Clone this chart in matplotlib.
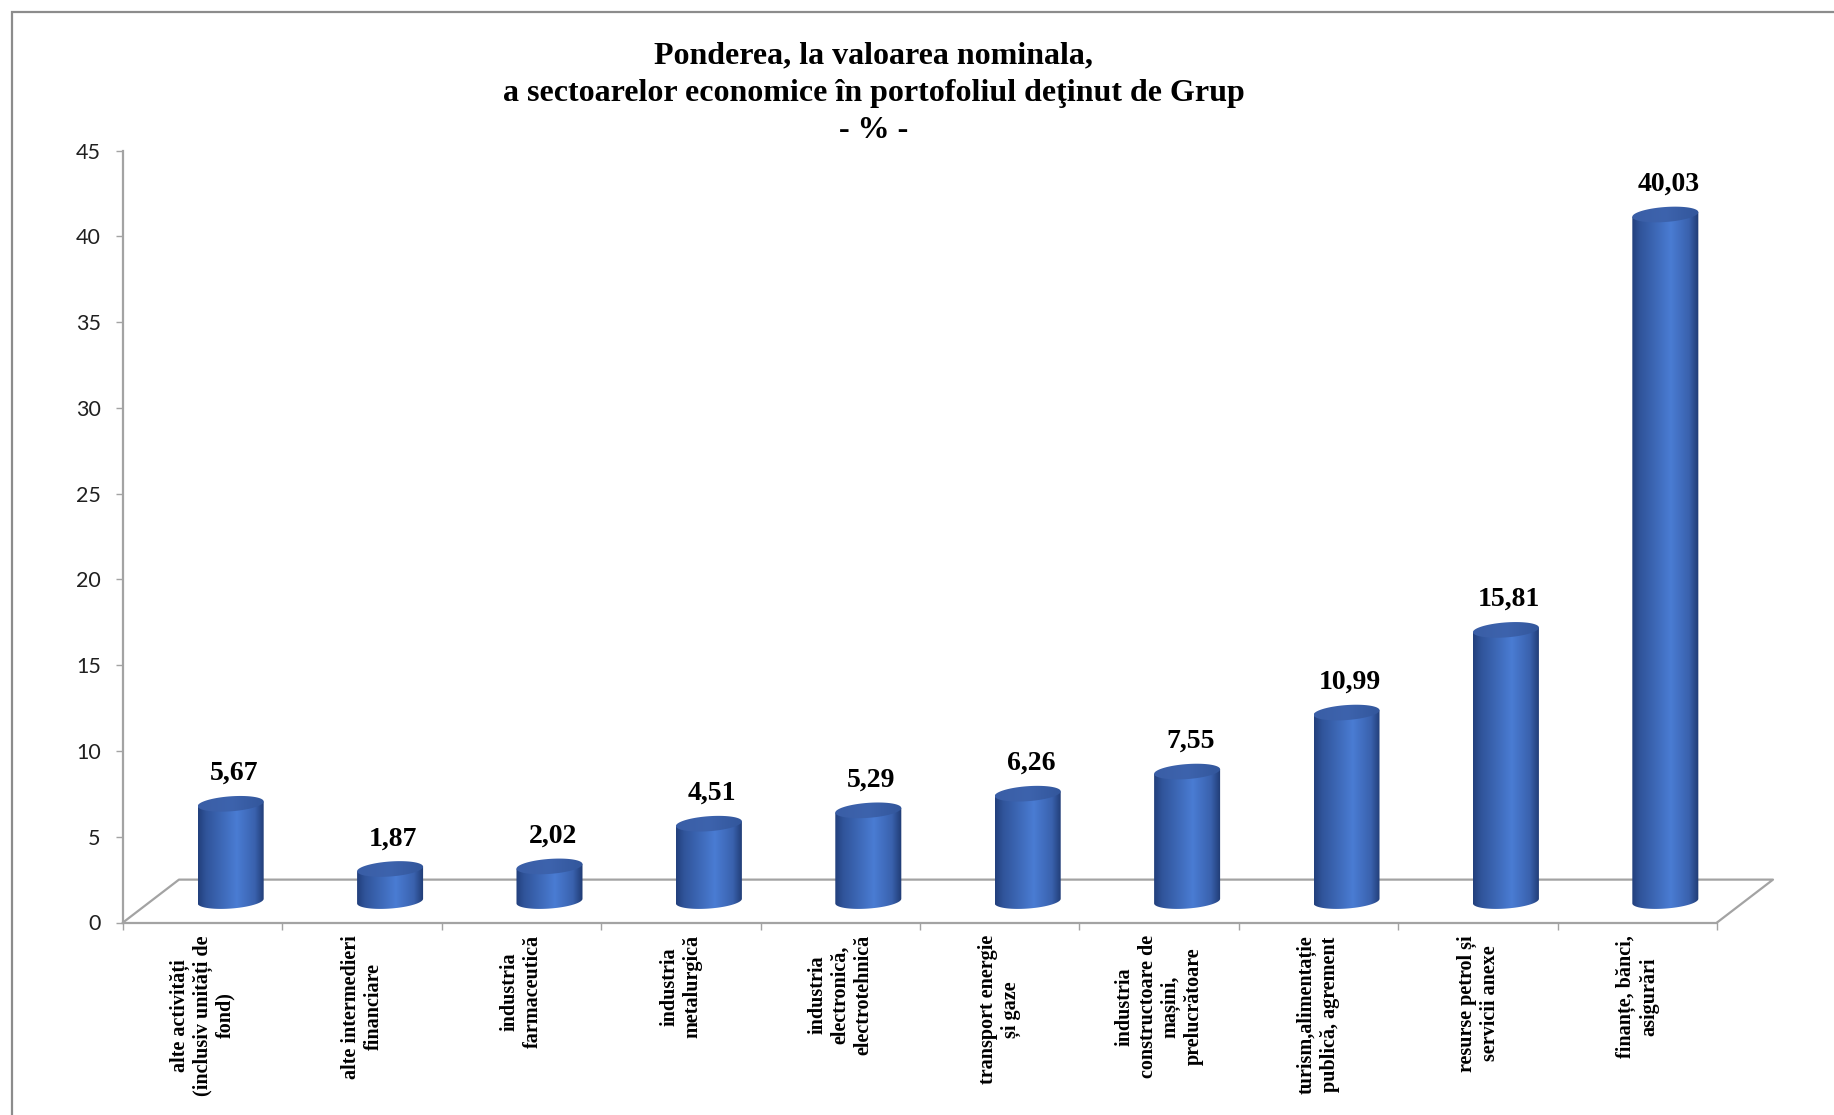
import numpy as np
import matplotlib
matplotlib.use("Agg")
import matplotlib.pyplot as plt
from matplotlib.path import Path
from matplotlib.patches import PathPatch, Rectangle
from matplotlib.colors import LinearSegmentedColormap
import matplotlib.ticker as mticker

categories = [
    "alte activități\n(inclusiv unități de\nfond)",
    "alte intermedieri\nfinanciare",
    "industria\nfarmaceutică",
    "industria\nmetalurgică",
    "industria\nelectronică,\nelectrotehnică",
    "transport energie\nși gaze",
    "industria\nconstructoare de\nmașini,\nprelucrătoare",
    "turism,alimentație\npublică, agrement",
    "resurse petrol și\nservicii anexe",
    "finanțe, bănci,\nasigurări",
]
values = [5.67, 1.87, 2.02, 4.51, 5.29, 6.26, 7.55, 10.99, 15.81, 40.03]
yticks = [0, 5, 10, 15, 20, 25, 30, 35, 40, 45]
title_lines = [
    "Ponderea, la valoarea nominala,",
    "a sectoarelor economice în portofoliul deţinut de Grup",
    "- % -",
]

W, H = 1834, 1115
fig = plt.figure(figsize=(W / 100, H / 100), dpi=100)

# chart area border (cut off at right / bottom like the source)
fig.patches.append(Rectangle((12 / W, -0.1), 1.2, (H - 12) / H + 0.1,
                             transform=fig.transFigure, fill=False,
                             edgecolor="#8c8c8c", linewidth=1.6))

# 3d-ish geometry (category units / value units)
depth_x = 0.351
depth_y = 2.5
n = len(values)

ax = fig.add_axes([123 / W, (H - 922.5) / H, 1650 / W, 771.8 / H])
ax.set_xlim(0, n + depth_x)
ax.set_ylim(0, 45)

grey = "#a3a3a3"
for s in ["top", "right"]:
    ax.spines[s].set_visible(False)
ax.spines["left"].set_color(grey)
ax.spines["left"].set_linewidth(1.6)
ax.spines["bottom"].set_color(grey)
ax.spines["bottom"].set_linewidth(1.6)
ax.spines["bottom"].set_bounds(0, n)

# floor outline
ax.plot([0, depth_x, n + depth_x, n], [0, depth_y, depth_y, 0],
        color=grey, lw=1.6, zorder=1, clip_on=False)

ax.yaxis.set_major_locator(mticker.FixedLocator(yticks))
ax.tick_params(axis="y", length=5, width=1, color=grey, pad=11,
               labelsize=15.5, labelcolor="#202020")
for lab in ax.get_yticklabels():
    lab.set_fontfamily("Lato")

ax.xaxis.set_major_locator(mticker.FixedLocator(np.arange(n + 1)))
ax.xaxis.set_major_formatter(mticker.NullFormatter())
ax.xaxis.set_minor_locator(mticker.FixedLocator(np.arange(n) + 0.5))
ax.xaxis.set_minor_formatter(mticker.FixedFormatter(categories))
ax.tick_params(axis="x", which="major", length=5, width=1, color=grey)
ax.tick_params(axis="x", which="minor", length=0, pad=9, labelsize=14.5)
for lab in ax.get_xticklabels(minor=True):
    lab.set_rotation(90)
    lab.set_fontfamily("Liberation Serif")
    lab.set_fontweight("bold")
    lab.set_multialignment("center")
    lab.set_verticalalignment("top")

body_cmap = LinearSegmentedColormap.from_list(
    "body", [(0, "#223f7c"), (0.12, "#30549a"), (0.58, "#4a7cd3"),
             (0.85, "#3a62ae"), (1, "#1f3a72")])
top_cmap = LinearSegmentedColormap.from_list(
    "top", [(0, "#3a5ea6"), (0.5, "#3d63ad"), (1, "#32569b")])

a = 33 / 159.4      # half width of cylinder (category units)
b = 7.5 / 17.15     # half height of ellipse (value units)
k = 0.07 * 159.4 / 17.15   # slight tilt
base = depth_y / 2
t = np.linspace(0, 2 * np.pi, 120)
grad = np.linspace(0, 1, 256)[None, :]

for i, v in enumerate(values):
    cx = i + 0.5 + depth_x / 2
    top = base + v
    # body: sides + lower half of bottom ellipse
    tb = np.linspace(np.pi, 2 * np.pi, 60)
    xs = np.concatenate([[cx - a], cx + a * np.cos(tb), [cx + a]])
    ys = np.concatenate([[top - k * a],
                         base + b * np.sin(tb) + k * a * np.cos(tb),
                         [top + k * a]])
    body = PathPatch(Path(np.column_stack([xs, ys]), closed=False),
                     facecolor="none", edgecolor="none")
    ax.add_patch(body)
    im = ax.imshow(grad, cmap=body_cmap, aspect="auto", zorder=3,
                   extent=[cx - a, cx + a, base - 2 * b, top + 2 * b])
    im.set_clip_path(body)
    # top ellipse
    ex = cx + a * np.cos(t)
    ey = top + b * np.sin(t) + k * a * np.cos(t)
    cap = PathPatch(Path(np.column_stack([ex, ey])),
                    facecolor="none", edgecolor="none")
    ax.add_patch(cap)
    im2 = ax.imshow(grad, cmap=top_cmap, aspect="auto", zorder=4,
                    extent=[cx - a, cx + a, top - 2 * b, top + 2 * b])
    im2.set_clip_path(cap)
    ax.text(cx + 0.02, top + b + 0.95, f"{v:.2f}".replace(".", ","),
            ha="center", va="baseline", fontsize=20, fontweight="bold",
            family="Liberation Serif", color="black", zorder=5)

ax.set_xlim(0, n + depth_x)
ax.set_ylim(0, 45)

for j, (line, yb) in enumerate(zip(title_lines, [63, 100.5, 138])):
    fig.text(874 / W, (H - yb) / H, line, ha="center", va="baseline",
             fontsize=23, fontweight="bold", family="Liberation Serif")

fig.savefig("out.png", dpi=100)
